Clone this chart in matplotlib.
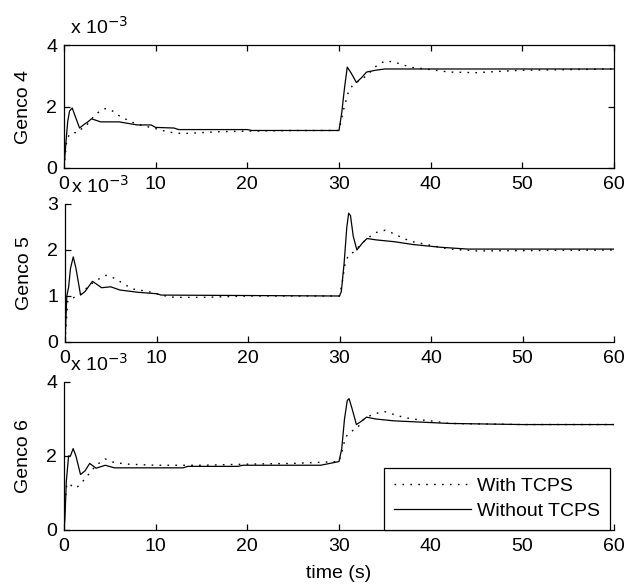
import matplotlib
matplotlib.use("Agg")
import matplotlib.pyplot as plt

plt.rcParams['font.family'] = ['Liberation Sans', 'DejaVu Sans']
plt.rcParams['font.size'] = 14

# values in units of 1e-3
t4_with = [0, 0.3, 0.6, 1.0, 1.5, 2, 2.5, 3, 3.5, 4, 4.5, 5, 5.5, 6, 7, 8, 9, 10, 11, 12, 13, 15, 17, 20, 25, 30,
           30.5, 31, 31.5, 32, 32.5, 33, 34, 35, 36, 37, 38, 40, 42, 45, 48, 50, 55, 60]
g4_with = [0, 0.9, 1.1, 1.15, 1.15, 1.3, 1.4, 1.6, 1.75, 1.87, 1.93, 1.9, 1.82, 1.7, 1.55, 1.42, 1.35, 1.28, 1.2, 1.14, 1.12, 1.15, 1.18, 1.2, 1.22, 1.22,
           1.9, 2.45, 2.7, 2.8, 2.9, 3.0, 3.3, 3.48, 3.45, 3.35, 3.27, 3.2, 3.12, 3.1, 3.15, 3.18, 3.2, 3.22]
t4_without = [0, 0.2, 0.4, 0.6, 0.9, 1.2, 1.7, 2.2, 2.6, 3.0, 3.5, 4, 6, 7, 8, 9.5, 10, 12, 12.5, 20, 20.5, 30,
              30.3, 30.6, 30.9, 31.3, 31.9, 32.5, 33, 34, 35, 60]
g4_without = [0, 0.8, 1.5, 1.85, 1.95, 1.7, 1.3, 1.42, 1.5, 1.6, 1.55, 1.5, 1.5, 1.45, 1.4, 1.4, 1.32, 1.3, 1.25, 1.25, 1.22, 1.22,
              1.8, 2.6, 3.28, 3.1, 2.78, 2.95, 3.12, 3.18, 3.22, 3.22]

t5_with = [0, 0.3, 1.0, 1.5, 2, 2.5, 3, 3.5, 4.5, 5.5, 6.5, 7.5, 9, 10, 11, 12, 15, 20, 25, 30,
           30.3, 30.6, 31, 31.5, 32, 32.5, 33, 34, 35, 36, 37, 38, 40, 42, 45, 60]
g5_with = [0, 0.9, 0.97, 1.0, 1.1, 1.2, 1.28, 1.35, 1.45, 1.38, 1.25, 1.15, 1.1, 1.05, 1.0, 0.97, 0.97, 1.0, 1.0, 1.0,
           1.3, 1.7, 1.9, 1.95, 2.05, 2.15, 2.25, 2.38, 2.43, 2.35, 2.25, 2.18, 2.1, 2.02, 1.98, 2.0]
t5_without = [0, 0.2, 0.4, 0.6, 0.9, 1.2, 1.7, 2.2, 3.0, 3.5, 4.0, 5, 6, 8, 10, 10.5, 30,
              30.2, 30.5, 30.8, 31.0, 31.2, 31.5, 31.9, 32.5, 33, 34, 36, 38, 41, 44, 60]
g5_without = [0, 1.0, 1.2, 1.6, 1.85, 1.6, 1.02, 1.1, 1.32, 1.25, 1.18, 1.2, 1.13, 1.08, 1.05, 1.02, 1.0,
              1.1, 1.7, 2.5, 2.8, 2.75, 2.3, 2.0, 2.15, 2.25, 2.22, 2.18, 2.12, 2.06, 2.02, 2.02]

t6_with = [0, 0.3, 0.6, 1.0, 1.4, 2.0, 2.5, 3, 3.5, 4.5, 5.5, 7, 10, 15, 20, 25, 30,
           30.3, 30.7, 31.2, 31.6, 32, 32.5, 33, 34, 35, 36, 37, 38, 40, 42, 50, 60]
g6_with = [0.3, 1.25, 1.25, 1.15, 1.15, 1.3, 1.45, 1.6, 1.75, 1.92, 1.82, 1.78, 1.75, 1.75, 1.78, 1.8, 1.85,
           2.1, 2.5, 2.65, 2.7, 2.75, 2.95, 3.05, 3.15, 3.2, 3.12, 3.05, 3.0, 2.95, 2.88, 2.85, 2.85]
t6_without = [0, 0.1, 0.25, 0.5, 0.7, 1.0, 1.3, 1.8, 2.3, 2.8, 3.5, 4.5, 5.5, 13, 13.5, 19, 19.5, 28, 29, 30,
              30.3, 30.6, 30.9, 31.1, 31.4, 31.9, 32.5, 33, 34, 36, 42, 50, 60]
g6_without = [0, 0.3, 1.3, 2.0, 2.0, 2.2, 2.0, 1.5, 1.6, 1.8, 1.67, 1.75, 1.68, 1.68, 1.72, 1.72, 1.75, 1.75, 1.8, 1.85,
              2.2, 3.0, 3.5, 3.55, 3.3, 2.85, 2.95, 3.05, 3.0, 2.95, 2.88, 2.85, 2.85]

panels = [
    ("Genco 4", t4_with, g4_with, t4_without, g4_without, 4, [0, 2, 4]),
    ("Genco 5", t5_with, g5_with, t5_without, g5_without, 3, [0, 1, 2, 3]),
    ("Genco 6", t6_with, g6_with, t6_without, g6_without, 4, [0, 2, 4]),
]
xticks = [0, 10, 20, 30, 40, 50, 60]

W, H = 626, 587
boxes = [(64, 614, 45, 168), (65, 614, 204, 342), (64, 614, 382, 530)]
dotted = (0, (1.2, 4.5))

fig = plt.figure(figsize=(W / 100, H / 100), dpi=100)
for i, (name, tw, gw, tn, gn, ymax, yt) in enumerate(panels):
    l, r, t, b = boxes[i]
    ax = fig.add_axes([l / W, (H - b) / H, (r - l) / W, (b - t) / H])
    lw1, = ax.plot(tw, gw, color='black', lw=1.0, linestyle=dotted, label='With TCPS')
    lw2, = ax.plot(tn, gn, color='black', lw=0.9, label='Without TCPS')
    ax.set_xlim(0, 60)
    ax.set_ylim(0, ymax)
    ax.set_xticks(xticks)
    ax.set_yticks(yt)
    box_on = (i == 0)
    ax.spines['top'].set_visible(box_on)
    ax.spines['right'].set_visible(box_on)
    for s in ax.spines.values():
        s.set_linewidth(0.9)
    ax.tick_params(direction='in', length=4, width=0.9, top=box_on, right=box_on)
    ax.tick_params(axis='y', pad=5)
    ax.tick_params(axis='x', pad=6)
    ax.set_ylabel(name)
    ax.yaxis.set_label_coords(-0.058, 0.5)
    ax.annotate(r'x 10$^{-3}$', xy=(0, 1), xycoords='axes fraction',
                xytext=(4, 5), textcoords='offset points', ha='left', va='bottom')
    if i == 2:
        ax.set_xlabel('time (s)', labelpad=7)
        ax.legend(handles=[lw1, lw2], loc='lower right',
                  bbox_to_anchor=((610 - 64) / 550, 0.0), borderaxespad=0,
                  fancybox=False, edgecolor='black', framealpha=1,
                  handlelength=4.0, handletextpad=0.3, borderpad=0.5,
                  labelspacing=0.4)
        ax.get_legend().get_frame().set_linewidth(0.9)

fig.savefig('out.png', dpi=100)
